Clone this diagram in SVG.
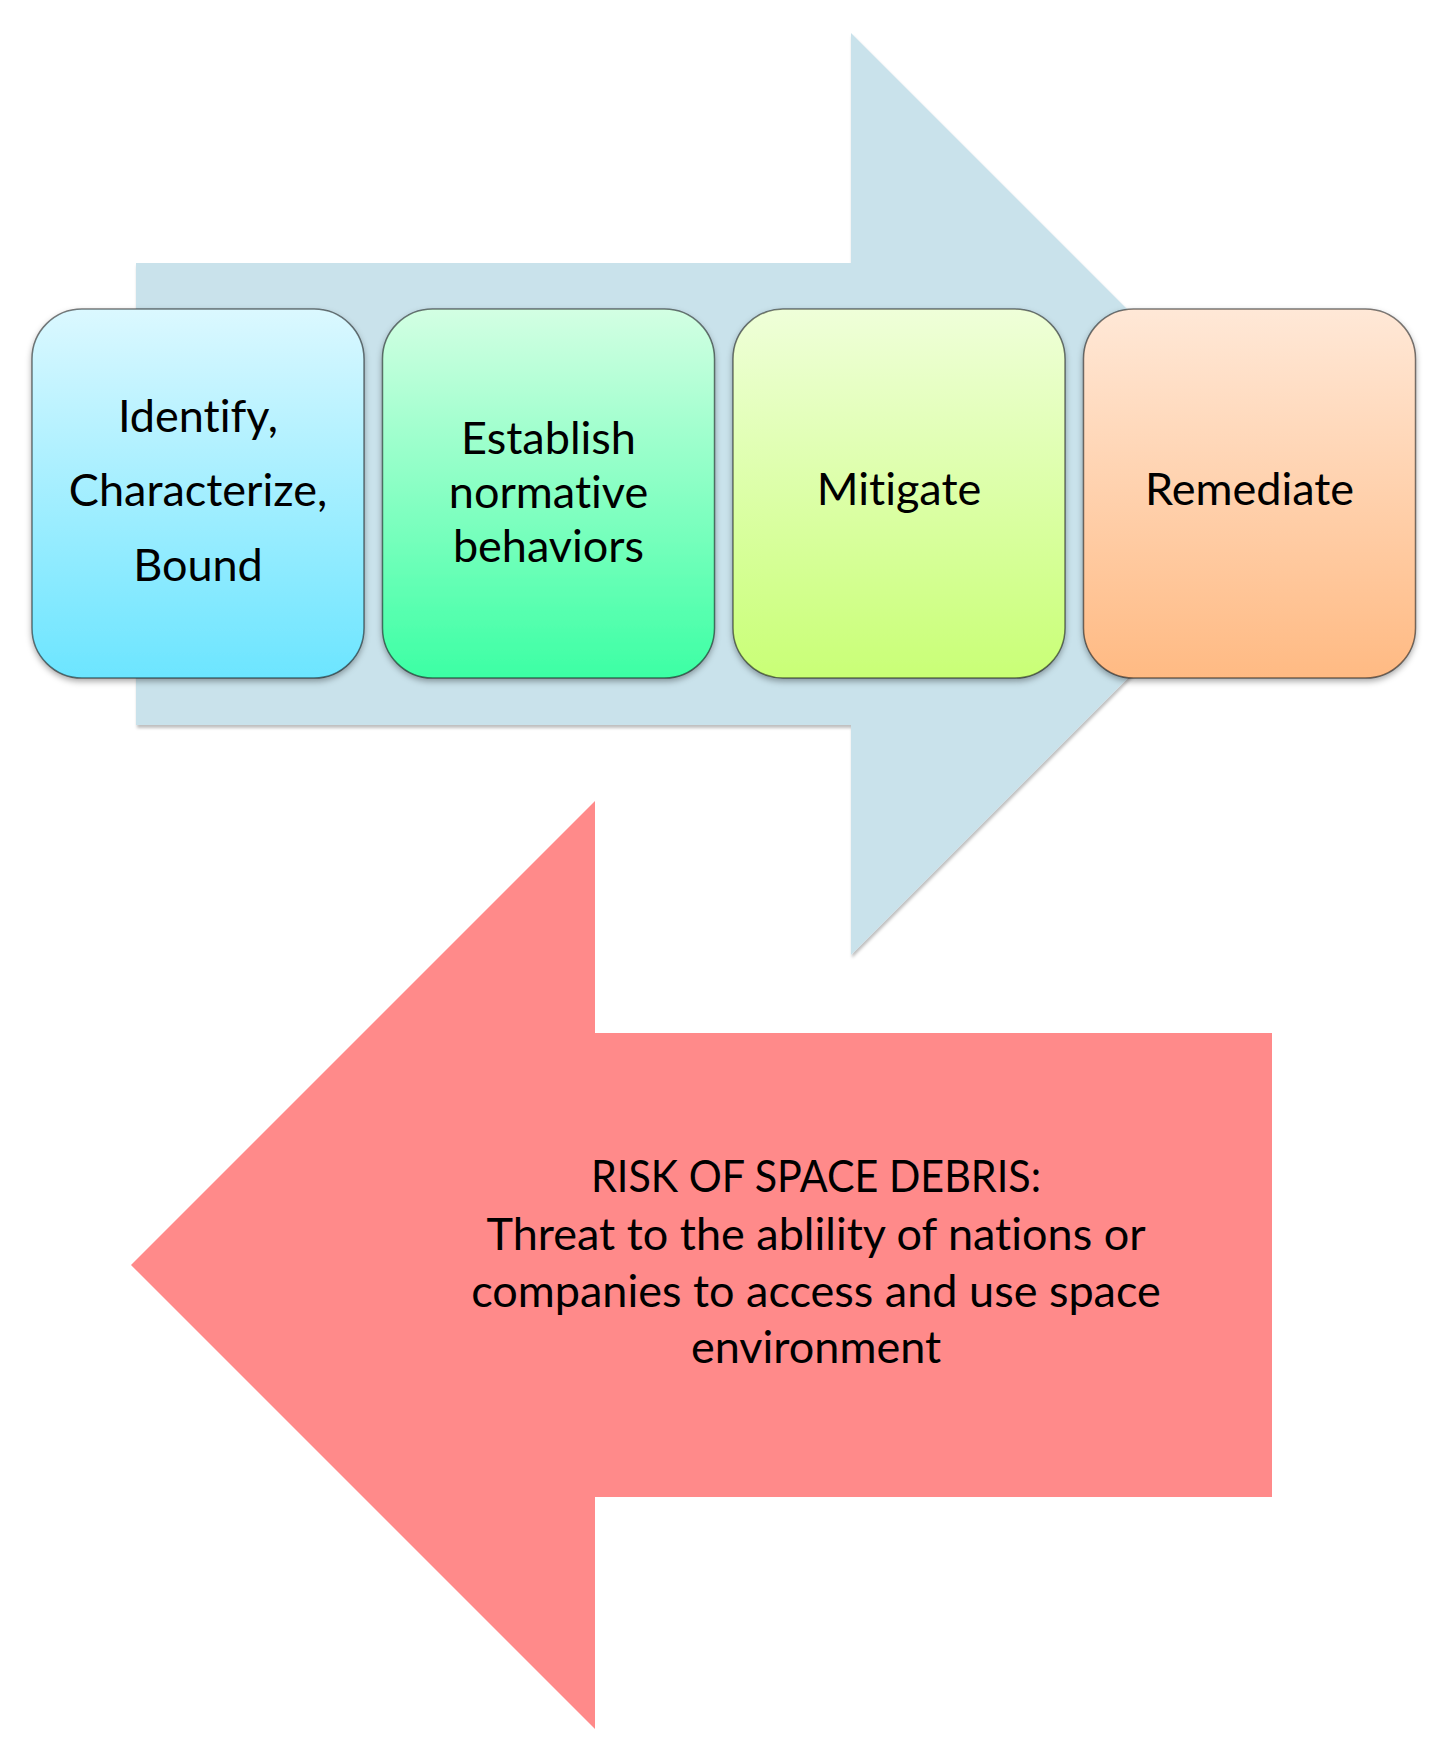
<svg xmlns="http://www.w3.org/2000/svg" width="1441" height="1752" viewBox="0 0 1441 1752">
  <defs>
    <linearGradient id="g1" x1="0" y1="0" x2="0" y2="1">
      <stop offset="0" stop-color="#DBF8FF"/>
      <stop offset="1" stop-color="#6CE5FF"/>
    </linearGradient>
    <linearGradient id="g2" x1="0" y1="0" x2="0" y2="1">
      <stop offset="0" stop-color="#D3FFE3"/>
      <stop offset="1" stop-color="#3CFFA4"/>
    </linearGradient>
    <linearGradient id="g3" x1="0" y1="0" x2="0" y2="1">
      <stop offset="0" stop-color="#EFFFD9"/>
      <stop offset="1" stop-color="#C9FF76"/>
    </linearGradient>
    <linearGradient id="g4" x1="0" y1="0" x2="0" y2="1">
      <stop offset="0" stop-color="#FFE8D7"/>
      <stop offset="1" stop-color="#FFBA83"/>
    </linearGradient>
    <filter id="sh" x="-10%" y="-10%" width="120%" height="125%">
      <feDropShadow dx="0" dy="3" stdDeviation="3" flood-color="#000" flood-opacity="0.35"/>
    </filter>
    <filter id="ash" x="-5%" y="-5%" width="110%" height="110%">
      <feDropShadow dx="1" dy="3" stdDeviation="1.5" flood-color="#000" flood-opacity="0.25"/>
    </filter>
  </defs>
  <style>
    .box { stroke: #000; stroke-opacity: 0.5; stroke-width: 1.5; filter: url(#sh); }
    .lbl { font-family: Lato, "Liberation Sans", sans-serif; font-size: 45px; fill: #000; text-anchor: middle; font-variant-ligatures: none; }
    .risk { font-family: Lato, "Liberation Sans", sans-serif; font-size: 45px; fill: #000; text-anchor: middle; font-variant-ligatures: none; }
  </style>
  <rect width="1441" height="1752" fill="#FFFFFF"/>

  <g id="arrow-forward">
    <polygon points="136,263 851,263 851,33 1312,494 851,955 851,725 136,725" fill="#C9E2EB" filter="url(#ash)"/>
  </g>

  <g id="arrow-risk">
    <polygon points="1272,1033 595,1033 595,801 131,1265 595,1729 595,1497 1272,1497" fill="#FF8A8A"/>
    <text class="risk" x="816" y="1192" textLength="450" lengthAdjust="spacingAndGlyphs">RISK OF SPACE DEBRIS:</text>
    <text class="risk" x="816" y="1250">Threat to the ablility of nations or</text>
    <text class="risk" x="816" y="1307">companies to access and use space</text>
    <text class="risk" x="816" y="1363">environment</text>
  </g>

  <g id="node-identify">
    <rect class="box" x="32" y="309" width="332" height="369" rx="50" ry="50" fill="url(#g1)"/>
    <text class="lbl" x="198" y="432">Identify,</text>
    <text class="lbl" x="198" y="506">Characterize,</text>
    <text class="lbl" x="198" y="581">Bound</text>
  </g>

  <g id="node-establish">
    <rect class="box" x="382.5" y="309" width="332" height="369" rx="50" ry="50" fill="url(#g2)"/>
    <text class="lbl" x="548.5" y="454">Establish</text>
    <text class="lbl" x="548.5" y="508">normative</text>
    <text class="lbl" x="548.5" y="562">behaviors</text>
  </g>

  <g id="node-mitigate">
    <rect class="box" x="733" y="309" width="332" height="369" rx="50" ry="50" fill="url(#g3)"/>
    <text class="lbl" x="899" y="505">Mitigate</text>
  </g>

  <g id="node-remediate">
    <rect class="box" x="1083.5" y="309" width="332" height="369" rx="50" ry="50" fill="url(#g4)"/>
    <text class="lbl" x="1249.5" y="505">Remediate</text>
  </g>

  <g id="connectors"></g>
</svg>
